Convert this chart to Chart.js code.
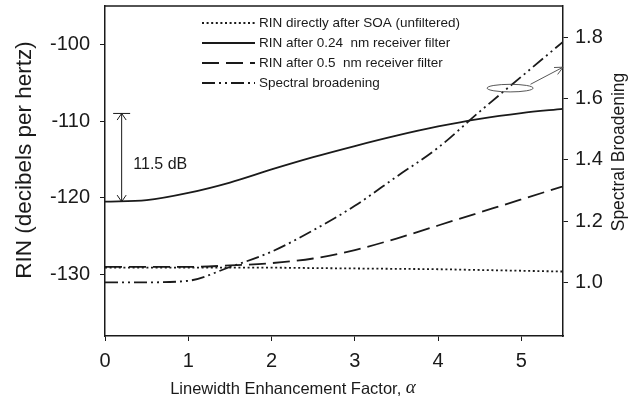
<!DOCTYPE html>
<html>
<head>
<meta charset="utf-8">
<script src="https://cdn.jsdelivr.net/npm/chart.js@4.4.0/dist/chart.umd.min.js"></script>
<style>
  html, body { margin: 0; padding: 0; background: #ffffff; }
  #wrap { width: 642px; height: 402px; }
</style>
</head>
<body>
<div id="wrap"><canvas id="c" width="642" height="402"></canvas></div>
<script>
// ---- data ----
const alphas = [0, 0.5, 1, 1.5, 2, 2.5, 3, 3.5, 4, 4.5, 5, 5.5];
const rinUnfiltered = [-129.1, -129.1, -129.1, -129.1, -129.1, -129.15, -129.2, -129.25, -129.3, -129.4, -129.5, -129.6];
const rinFilter024 = [-120.5, -120.3, -119.35, -118.0, -116.3, -114.7, -113.25, -111.9, -110.7, -109.7, -108.95, -108.4];
const rinFilter05 = [-129.0, -129.0, -129.0, -128.8, -128.5, -127.9, -126.8, -125.3, -123.6, -121.9, -120.2, -118.5];
const spectralBroadening = [1.0, 1.0, 1.005, 1.05, 1.10, 1.17, 1.25, 1.345, 1.44, 1.558, 1.672, 1.786];

const xTicks = [0, 1, 2, 3, 4, 5];
const leftTicks = [-130, -120, -110, -100];
const rightTicks = [1.0, 1.2, 1.4, 1.6, 1.8];

const seriesLabels = [
  'RIN directly after SOA (unfiltered)',
  'RIN after 0.24  nm receiver filter',
  'RIN after 0.5  nm receiver filter',
  'Spectral broadening'
];
const xTitle = 'Linewidth Enhancement Factor, ';
const leftTitle = 'RIN (decibels per hertz)';
const rightTitle = 'Spectral Broadening';
const gapLabel = '11.5 dB';
// annotation anchors in data units
const gapArrow = { x: 0.2, top: -109, bottom: -120.5 };
const gapText = { x: 0.34, y: -115.7 };
const ellipseAt = { x: 4.865, y: -105.7 };
const pointerFrom = { x: 5.11, y: -105.2 };   // left axis units
const pointerTo = { x: 5.5, y: 1.703 };       // right axis units

const INK = '#1a1a1a';
const FONT = '"Liberation Sans", Arial, Helvetica, sans-serif';
const dashes = [[2, 2.6], [], [17, 7], [13, 4, 2, 4, 2, 4]];

function pts(arr) { return alphas.map((a, i) => ({ x: a, y: arr[i] })); }

const datasets = [
  { label: seriesLabels[0], data: pts(rinUnfiltered), yAxisID: 'y', borderDash: dashes[0] },
  { label: seriesLabels[1], data: pts(rinFilter024), yAxisID: 'y', borderDash: dashes[1] },
  { label: seriesLabels[2], data: pts(rinFilter05), yAxisID: 'y', borderDash: dashes[2] },
  { label: seriesLabels[3], data: pts(spectralBroadening), yAxisID: 'y2', borderDash: dashes[3] }
].map(d => Object.assign({
  borderColor: INK, borderWidth: 1.8, pointRadius: 0, fill: false,
  cubicInterpolationMode: 'monotone'
}, d));

function arrowHead(ctx, x, y, ang, len, spread) {
  ctx.beginPath();
  ctx.moveTo(x + len * Math.cos(ang + spread), y + len * Math.sin(ang + spread));
  ctx.lineTo(x, y);
  ctx.lineTo(x + len * Math.cos(ang - spread), y + len * Math.sin(ang - spread));
  ctx.stroke();
}

const decor = {
  id: 'decor',
  afterDraw(chart) {
    const ctx = chart.ctx, a = chart.chartArea;
    const xs = chart.scales.x, ys = chart.scales.y, y2 = chart.scales.y2;
    ctx.save();
    // top frame line
    ctx.strokeStyle = INK; ctx.lineWidth = 1.5; ctx.setLineDash([]);
    ctx.beginPath(); ctx.moveTo(a.left, a.top); ctx.lineTo(a.right, a.top); ctx.stroke();

    // legend
    ctx.font = '13.5px ' + FONT; ctx.fillStyle = INK; ctx.textBaseline = 'middle'; ctx.textAlign = 'left';
    for (let i = 0; i < seriesLabels.length; i++) {
      const yy = a.top + 17 + i * 20;
      ctx.lineWidth = 1.8; ctx.setLineDash(dashes[i]);
      ctx.beginPath(); ctx.moveTo(a.left + 97, yy); ctx.lineTo(a.left + 150, yy); ctx.stroke();
      ctx.setLineDash([]);
      ctx.fillText(seriesLabels[i], a.left + 154, yy);
    }

    // 11.5 dB double arrow
    const ax = xs.getPixelForValue(gapArrow.x);
    const at = ys.getPixelForValue(gapArrow.top), ab = ys.getPixelForValue(gapArrow.bottom);
    ctx.lineWidth = 1; ctx.setLineDash([]);
    ctx.beginPath(); ctx.moveTo(ax, at); ctx.lineTo(ax, ab); ctx.stroke();
    ctx.beginPath(); ctx.moveTo(ax - 8.5, at); ctx.lineTo(ax + 8.5, at); ctx.stroke();
    arrowHead(ctx, ax, at, Math.PI / 2, 8, 0.6);
    arrowHead(ctx, ax, ab, -Math.PI / 2, 8, 0.6);
    ctx.font = '16px ' + FONT; ctx.textBaseline = 'middle';
    ctx.fillText(gapLabel, xs.getPixelForValue(gapText.x), ys.getPixelForValue(gapText.y));

    // ellipse + pointer arrow
    ctx.strokeStyle = '#444'; ctx.lineWidth = 0.9;
    ctx.beginPath();
    ctx.ellipse(xs.getPixelForValue(ellipseAt.x), ys.getPixelForValue(ellipseAt.y), 23, 3.8, 0, 0, Math.PI * 2);
    ctx.stroke();
    const px0 = xs.getPixelForValue(pointerFrom.x), py0 = ys.getPixelForValue(pointerFrom.y);
    const px1 = xs.getPixelForValue(pointerTo.x), py1 = y2.getPixelForValue(pointerTo.y);
    ctx.beginPath(); ctx.moveTo(px0, py0); ctx.lineTo(px1, py1); ctx.stroke();
    const ang = Math.atan2(py0 - py1, px0 - px1);
    arrowHead(ctx, px1, py1, ang, 9, 0.45);

    // axis titles
    ctx.fillStyle = INK; ctx.textBaseline = 'middle';
    ctx.font = '16.5px ' + FONT;
    const wMain = ctx.measureText(xTitle).width;
    ctx.font = 'italic 19px "Liberation Serif", "Times New Roman", serif';
    const wA = ctx.measureText('α').width;
    const startX = 293 - (wMain + wA) / 2;
    ctx.textAlign = 'left';
    ctx.font = '16.5px ' + FONT;
    ctx.fillText(xTitle, startX, 389);
    ctx.font = 'italic 19px "Liberation Serif", "Times New Roman", serif';
    ctx.fillText('α', startX + wMain, 388);

    ctx.textAlign = 'center';
    ctx.font = '22.5px ' + FONT;
    ctx.save(); ctx.translate(25, 160); ctx.rotate(-Math.PI / 2); ctx.fillText(leftTitle, 0, 0); ctx.restore();
    ctx.font = '17.5px ' + FONT;
    ctx.save(); ctx.translate(619, 152); ctx.rotate(-Math.PI / 2); ctx.fillText(rightTitle, 0, 0); ctx.restore();
    ctx.restore();
  }
};

const tickFont = { family: FONT, size: 20 };
function noPadY(s, w) { s.width = w; s.paddingTop = 0; s.paddingBottom = 0; }
new Chart(document.getElementById('c'), {
  type: 'line',
  data: { datasets },
  options: {
    responsive: false, animation: false, devicePixelRatio: 1,
    layout: { padding: { top: 6, left: 0, right: 0, bottom: 0 } },
    plugins: { legend: { display: false }, tooltip: { enabled: false } },
    scales: {
      x: {
        type: 'linear', min: 0, max: 5.5, position: 'bottom',
        afterBuildTicks: s => { s.ticks = xTicks.map(v => ({ value: v })); },
        afterFit: s => { s.height = 66; s.paddingLeft = 0; s.paddingRight = 0; },
        ticks: { font: tickFont, color: INK, padding: 8, maxRotation: 0, callback: v => String(v) },
        grid: { drawOnChartArea: false, drawTicks: true, tickLength: 5, color: INK, tickWidth: 1 },
        border: { display: true, color: INK, width: 1.5 }
      },
      y: {
        type: 'linear', min: -138, max: -95, position: 'left',
        afterBuildTicks: s => { s.ticks = leftTicks.map(v => ({ value: v })); },
        afterFit: s => noPadY(s, 105),
        ticks: { font: tickFont, color: INK, padding: 10, callback: v => String(v) },
        grid: { drawOnChartArea: false, drawTicks: true, tickLength: 5, color: INK, tickWidth: 1 },
        border: { display: true, color: INK, width: 1.5 }
      },
      y2: {
        type: 'linear', min: 0.8245, max: 1.903, position: 'right',
        afterBuildTicks: s => { s.ticks = rightTicks.map(v => ({ value: v })); },
        afterFit: s => noPadY(s, 79),
        ticks: { font: tickFont, color: INK, padding: 7, callback: v => Number(v).toFixed(1) },
        grid: { drawOnChartArea: false, drawTicks: true, tickLength: 5, color: INK, tickWidth: 1 },
        border: { display: true, color: INK, width: 1.5 }
      }
    }
  },
  plugins: [decor]
});
</script>
</body>
</html>
